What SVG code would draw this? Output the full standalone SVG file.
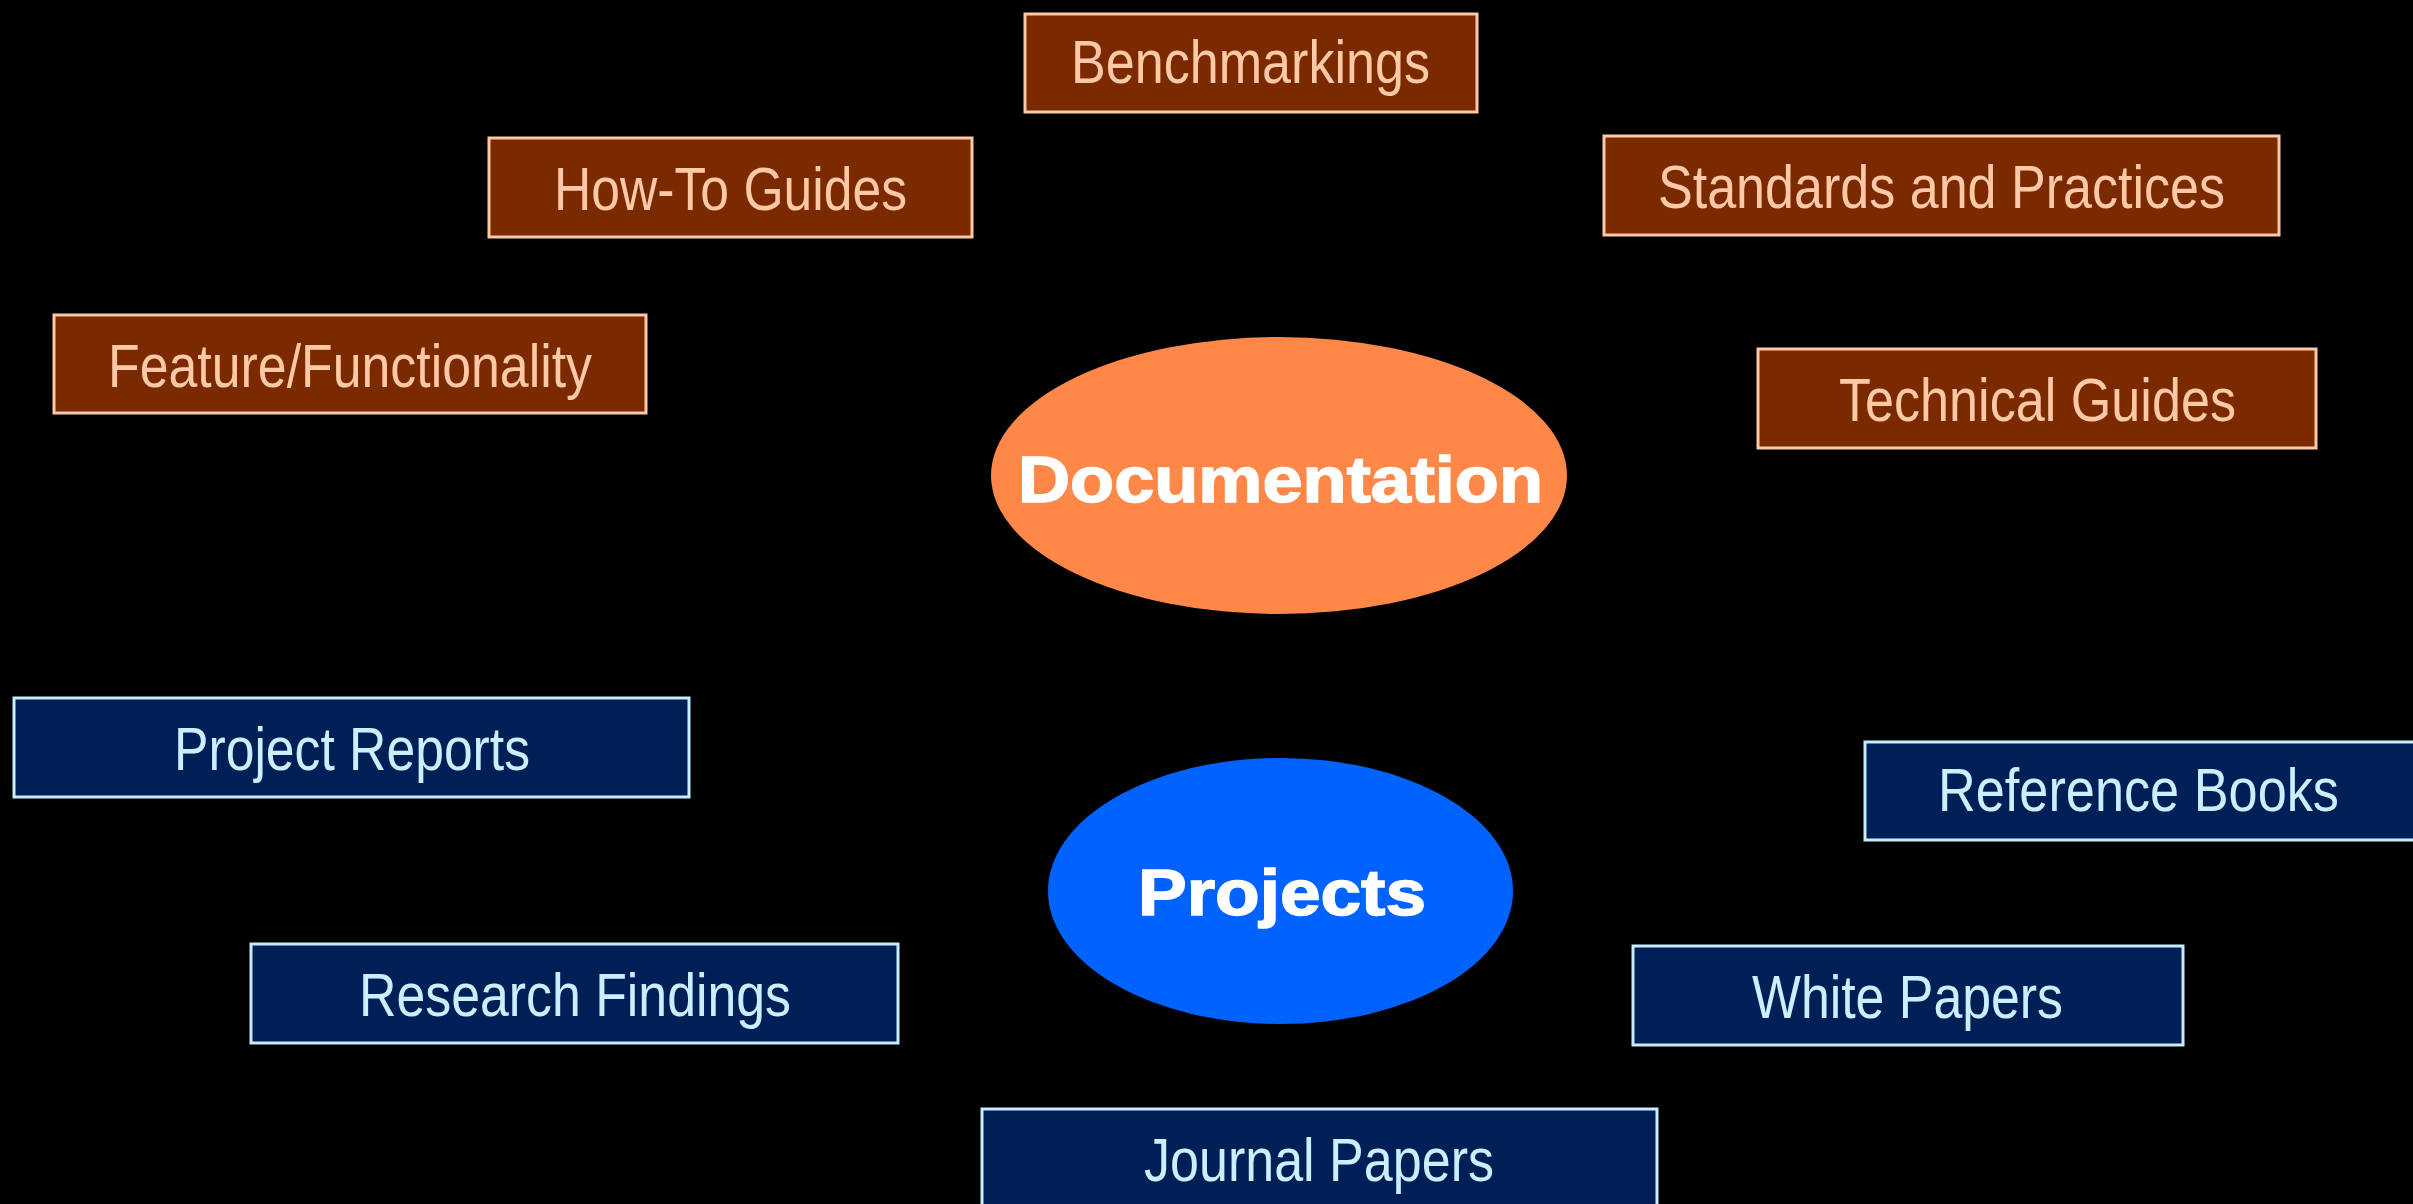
<svg xmlns="http://www.w3.org/2000/svg" width="2413" height="1204" viewBox="0 0 2413 1204">
<style>
.doc rect{fill:#7B2A00;stroke:#FFC8A6;stroke-width:3}
.doc text{fill:#FFC8A6}
.prj rect{fill:#001F57;stroke:#C6ECFF;stroke-width:3}
.prj text{fill:#CCEEFF}
text{font-family:"Liberation Sans",Arial,sans-serif;font-size:62px}
.hub{font-weight:bold;font-size:65px;fill:#FFFFFF;stroke:#FFFFFF;stroke-width:1.5}
</style>
<rect x="0" y="0" width="2413" height="1204" fill="#000000"/>
<g id="connectors"></g>
<g id="documentation">
<ellipse cx="1279" cy="475.5" rx="288" ry="138.5" fill="#FF8748"/>
<text class="hub" x="1018" y="502" textLength="525" lengthAdjust="spacingAndGlyphs">Documentation</text>
</g>
<g id="projects">
<ellipse cx="1280.5" cy="891" rx="232.5" ry="133" fill="#0063FF"/>
<text class="hub" x="1138" y="915" textLength="288" lengthAdjust="spacingAndGlyphs">Projects</text>
</g>
<g id="benchmarkings" class="doc">
<rect x="1025" y="14" width="452" height="98"/>
<text x="1071" y="83" textLength="359" lengthAdjust="spacingAndGlyphs">Benchmarkings</text>
</g>
<g id="howto" class="doc">
<rect x="489" y="138" width="483" height="99"/>
<text x="554" y="210" textLength="353" lengthAdjust="spacingAndGlyphs">How-To Guides</text>
</g>
<g id="standards" class="doc">
<rect x="1604" y="136" width="675" height="99"/>
<text x="1658" y="208" textLength="567" lengthAdjust="spacingAndGlyphs">Standards and Practices</text>
</g>
<g id="feature" class="doc">
<rect x="54" y="315" width="592" height="98"/>
<text x="108" y="387" textLength="484" lengthAdjust="spacingAndGlyphs">Feature/Functionality</text>
</g>
<g id="technical" class="doc">
<rect x="1758" y="349" width="558" height="99"/>
<text x="1839" y="421" textLength="397" lengthAdjust="spacingAndGlyphs">Technical Guides</text>
</g>
<g id="projectreports" class="prj">
<rect x="14" y="698" width="675" height="99"/>
<text x="174" y="770" textLength="356" lengthAdjust="spacingAndGlyphs">Project Reports</text>
</g>
<g id="referencebooks" class="prj">
<rect x="1865" y="742" width="560" height="98"/>
<text x="1938" y="811" textLength="401" lengthAdjust="spacingAndGlyphs">Reference Books</text>
</g>
<g id="researchfindings" class="prj">
<rect x="251" y="944" width="647" height="99"/>
<text x="359" y="1016" textLength="432" lengthAdjust="spacingAndGlyphs">Research Findings</text>
</g>
<g id="whitepapers" class="prj">
<rect x="1633" y="946" width="550" height="99"/>
<text x="1752" y="1018" textLength="311" lengthAdjust="spacingAndGlyphs">White Papers</text>
</g>
<g id="journalpapers" class="prj">
<rect x="982" y="1109" width="675" height="110"/>
<text x="1144" y="1181" textLength="350" lengthAdjust="spacingAndGlyphs">Journal Papers</text>
</g>
</svg>
